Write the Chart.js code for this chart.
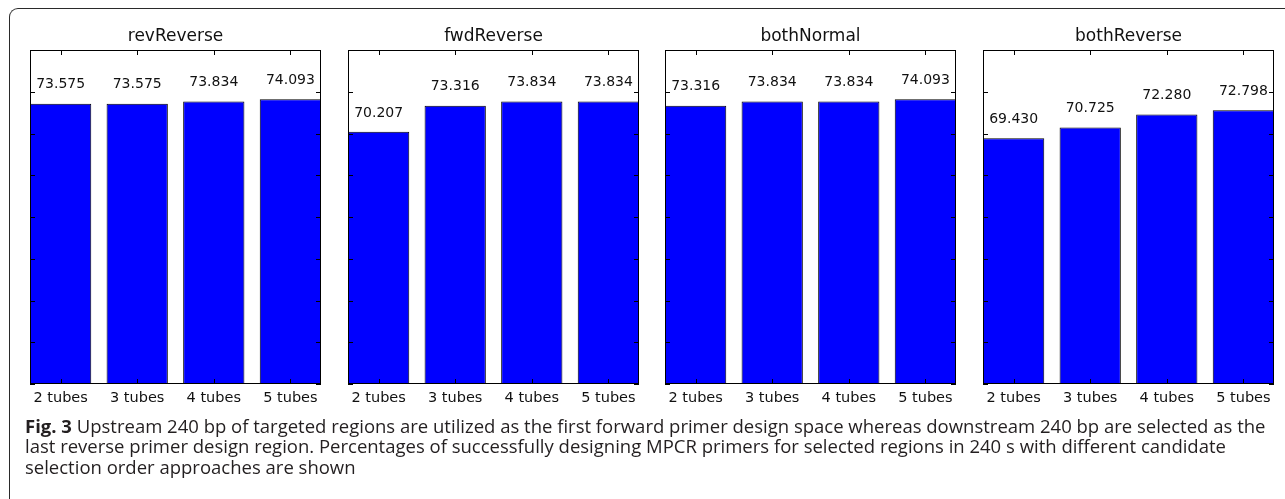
<!DOCTYPE html>
<html>
<head>
<meta charset="utf-8">
<script src="https://cdn.jsdelivr.net/npm/chart.js@4.4.0/dist/chart.umd.min.js"></script>
<style>
  html, body { margin: 0; background: #fff; width: 1285px; height: 499px; overflow: hidden; }
  body { position: relative; }
  #marco { position: absolute; left: 9px; top: 8px; width: 1290px; height: 520px; border-top: 1.5px solid #2a2a2a; border-left: 1.5px solid #2a2a2a; border-top-left-radius: 9px; }
  .panel { position: absolute; top: 0; width: 320px; height: 420px; }
  #leyenda { position: absolute; left: 25px; top: 415.6px; font-family: 'Open Sans', sans-serif; font-size: 18.5px; line-height: 20.5px; color: #231f20; white-space: nowrap; }
</style>
</head>
<body>
<div id="marco"></div>
<div class="panel" style="left:16px"><canvas id="g0"></canvas></div>
<div class="panel" style="left:333.5px"><canvas id="g1"></canvas></div>
<div class="panel" style="left:651px"><canvas id="g2"></canvas></div>
<div class="panel" style="left:968.5px"><canvas id="g3"></canvas></div>
<div id="leyenda"><b>Fig. 3</b> Upstream 240 bp of targeted regions are utilized as the first forward primer design space whereas downstream 240 bp are selected as the<br>last reverse primer design region. Percentages of successfully designing MPCR primers for selected regions in 240 s with different candidate<br>selection order approaches are shown</div>
<script>
// Datos

const categorias = ["2 tubes", "3 tubes", "4 tubes", "5 tubes"];
const titulos = ["revReverse", "fwdReverse", "bothNormal", "bothReverse"];
const revReverse = [73.575, 73.575, 73.834, 74.093];
const fwdReverse = [70.207, 73.316, 73.834, 73.834];
const bothNormal = [73.316, 73.834, 73.834, 74.093];
const bothReverse = [69.430, 70.725, 72.280, 72.798];
const ticksY = [40, 45, 50, 55, 60, 65, 70, 75, 80];

const series = [revReverse, fwdReverse, bothNormal, bothReverse];

Chart.defaults.font.family = "'DejaVu Sans', sans-serif";
Chart.defaults.color = "#111";

// Marco, marcas hacia adentro y etiquetas de valor (estilo matplotlib)
const marcoYMarcas = {
  id: 'marcoYMarcas',
  afterDatasetsDraw(chart) {
    const { ctx, chartArea: a, scales: { x, y } } = chart;
    ctx.save();
    ctx.strokeStyle = '#000';
    ctx.lineWidth = 1;
    ctx.strokeRect(a.left + 0.5, a.top + 0.5, a.width - 1, a.height - 1);

    ctx.beginPath();
    ticksY.forEach(v => {
      const py = Math.round(y.getPixelForValue(v)) + 0.5;
      ctx.moveTo(a.left, py); ctx.lineTo(a.left + 5, py);
      ctx.moveTo(a.right, py); ctx.lineTo(a.right - 5, py);
    });
    x.ticks.forEach(t => {
      const px = Math.round(x.getPixelForValue(t.value)) + 0.5;
      ctx.moveTo(px, a.top); ctx.lineTo(px, a.top + 5);
      ctx.moveTo(px, a.bottom); ctx.lineTo(px, a.bottom - 5);
    });
    ctx.stroke();

    const valores = chart.data.datasets[0].data;
    ctx.fillStyle = '#111';
    ctx.font = "14px 'DejaVu Sans'";
    ctx.textAlign = 'center';
    ctx.textBaseline = 'bottom';
    chart.getDatasetMeta(0).data.forEach((barra, i) => {
      const v = valores[i].y;
      ctx.fillText(v.toFixed(3), barra.x, y.getPixelForValue(v * 1.02));
    });
    ctx.restore();
  }
};

function crearPanel(idCanvas, titulo, valores) {
  const ctx = document.getElementById(idCanvas).getContext('2d');
  return new Chart(ctx, {
    type: 'bar',
    data: {
      datasets: [{
        data: valores.map((v, i) => ({ x: i, y: v })),
        backgroundColor: '#0000ff',
        borderColor: '#000',
        borderWidth: 1,
        borderSkipped: false,
        categoryPercentage: 0.8,
        barPercentage: 1.0
      }]
    },
    options: {
      responsive: true,
      maintainAspectRatio: false,
      animation: false,
      layout: { padding: { left: 14, right: 15, top: 0, bottom: 0 } },
      plugins: {
        legend: { display: false },
        tooltip: { enabled: false },
        title: {
          display: true,
          text: titulo,
          color: '#111',
          font: { size: 17, weight: 'normal' },
          padding: { top: 26, bottom: 3.6 }
        }
      },
      scales: {
        x: {
          type: 'linear',
          offset: false,
          min: -0.4,
          max: 3.4,
          grid: { display: false, drawTicks: false, offset: false },
          border: { display: false },
          afterBuildTicks: axis => { axis.ticks = categorias.map((c, i) => ({ value: i })); },
          afterFit: axis => { axis.height = 36; },
          ticks: {
            padding: 6,
            font: { size: 14.5 },
            color: '#111',
            callback: v => categorias[v]
          }
        },
        y: {
          display: false,
          min: 40,
          max: 80
        }
      }
    },
    plugins: [marcoYMarcas]
  });
}

series.forEach((valores, i) => crearPanel('g' + i, titulos[i], valores));
</script>
</body>
</html>
